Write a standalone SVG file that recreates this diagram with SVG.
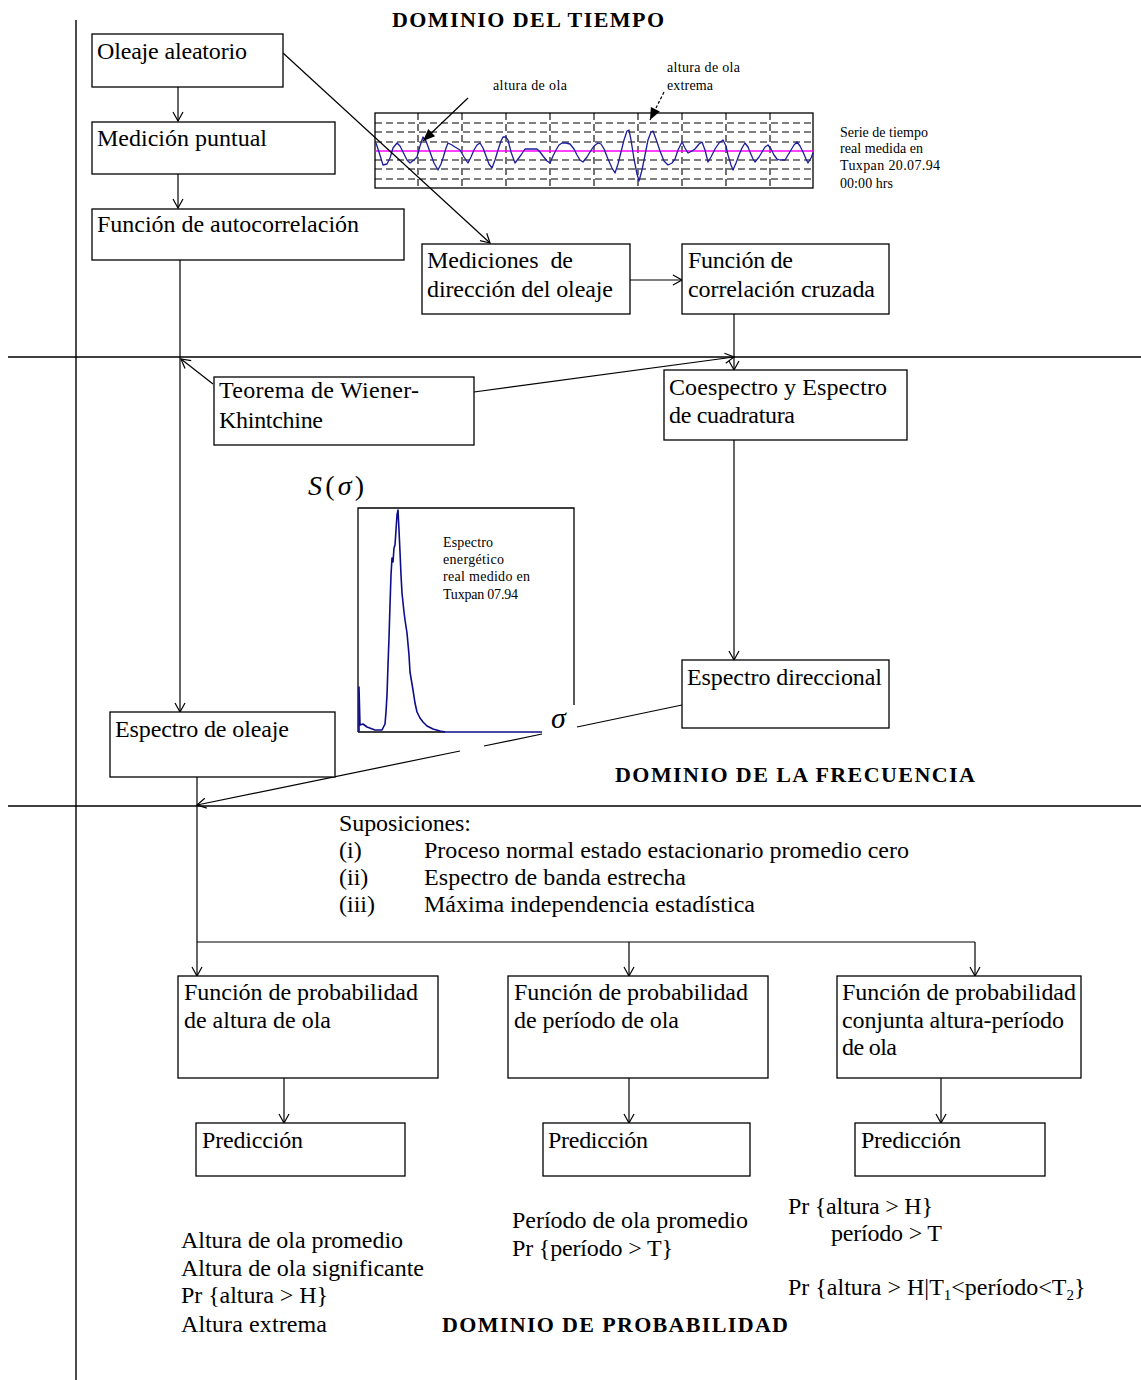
<svg xmlns="http://www.w3.org/2000/svg" width="1141" height="1380" viewBox="0 0 1141 1380">
<defs>
<style>
.bg{fill:#fff}
.box{fill:#fff;stroke:#000;stroke-width:1.3}
.t{font-family:"Liberation Serif","Times New Roman",serif;font-size:24px;fill:#000}
.h{font-family:"Liberation Serif","Times New Roman",serif;font-size:22px;font-weight:bold;fill:#000}
.s{font-family:"Liberation Serif","Times New Roman",serif;font-size:14px;fill:#000}
.c{stroke:#000;stroke-width:1.2;fill:none}
.div{stroke:#000;stroke-width:1.4;fill:none}
.grid{stroke:#000;stroke-width:1.1;stroke-dasharray:7 4;fill:none}
.wave{stroke:#1c1c9c;stroke-width:1.3;fill:none;stroke-linejoin:round}
.spec{stroke:#0d0d8a;stroke-width:1.6;fill:none;stroke-linejoin:round}
</style>
<marker id="v" markerWidth="12" markerHeight="12" refX="10" refY="6" orient="auto" markerUnits="userSpaceOnUse" overflow="visible">
<path d="M1,1 L10,6 L1,11" fill="none" stroke="#000" stroke-width="1.2"/>
</marker>
<marker id="f" markerWidth="14" markerHeight="12" refX="12" refY="6" orient="auto" markerUnits="userSpaceOnUse" overflow="visible">
<path d="M0,1 L12,6 L0,11 z" fill="#000"/>
</marker>
</defs>
<rect class="bg" x="0" y="0" width="1141" height="1380"/>

<g id="dividers">
<line class="div" x1="76" y1="20" x2="76" y2="1380"/>
<line class="div" x1="8" y1="357" x2="1141" y2="357"/>
<line class="div" x1="8" y1="806" x2="1141" y2="806"/>
</g>

<g id="headings">
<text class="h" x="392" y="27" textLength="272">DOMINIO DEL TIEMPO</text>
<text class="h" x="615" y="782" textLength="360">DOMINIO DE LA FRECUENCIA</text>
<text class="h" x="442" y="1332" textLength="346">DOMINIO DE PROBABILIDAD</text>
</g>

<g id="time-series">
<rect x="375" y="113" width="438" height="75" fill="#fff" stroke="#000" stroke-width="1.3"/>
<path class="grid" d="M375,123H813M375,132H813M375,142H813M375,160H813M375,169H813M375,179H813"/>
<path class="grid" d="M418,113V188M462,113V188M506,113V188M550,113V188M594,113V188M638,113V188M682,113V188M726,113V188M770,113V188"/>
<line x1="375" y1="151" x2="813" y2="151" stroke="#ff00ff" stroke-width="1.6"/>
<polyline class="wave" points="376,143 379,152 383,165 387,164 390,158 393,148 397,143 400,146 403,152 407,160 410,163 414,160 417,157 420,146 423,137 426,141 430,152 434,163 438,170 441,164 443,158 446,148 448,143 452,145 455,147 460,150 464,157 468,163 471,157 474,150 477,145 480,143 483,148 486,156 489,164 492,168 495,160 498,150 501,141 503,137 506,137 508,140 511,152 515,163 518,159 521,155 525,149 531,149 537,149 540,152 543,156 547,161 550,163 553,156 556,150 559,145 562,143 566,143 570,144 574,149 577,155 580,160 583,162 587,157 590,152 594,146 598,143 601,144 604,149 608,159 612,168 615,173 618,164 621,152 624,140 627,131 629,130 631,140 634,159 637,174 639,181 642,170 645,155 648,140 651,132 653,131 656,139 660,151 664,161 668,165 672,163 675,159 678,150 682,142 685,148 688,153 692,151 695,149 699,144 702,142 705,150 708,162 711,157 715,149 719,143 723,140 726,146 728,155 731,165 733,170 736,163 739,155 742,148 745,143 748,147 750,152 753,159 755,162 759,157 762,152 765,147 768,145 771,149 774,155 777,159 780,160 785,160 788,155 791,150 794,145 797,142 800,146 803,152 806,159 808,163 811,158 813,153"/>
<line class="c" x1="468" y1="98" x2="423" y2="141" marker-end="url(#f)"/>
<line class="c" x1="664" y1="92" x2="650" y2="120" stroke-dasharray="3 2" marker-end="url(#f)"/>
<text class="s" x="493" y="90" textLength="74">altura de ola</text>
<text class="s" x="667" y="72" textLength="73">altura de ola</text>
<text class="s" x="667" y="90" textLength="46">extrema</text>
<text class="s" x="840" y="137" textLength="88">Serie de tiempo</text>
<text class="s" x="840" y="153" textLength="83">real medida en</text>
<text class="s" x="840" y="170" textLength="100">Tuxpan 20.07.94</text>
<text class="s" x="840" y="188" textLength="53">00:00 hrs</text>
</g>

<g id="spectrum-plot">
<path d="M358,732V508H574V705" fill="none" stroke="#000" stroke-width="1.3"/>
<line x1="358" y1="732" x2="445" y2="732" stroke="#000" stroke-width="1.6"/>
<line x1="445" y1="732" x2="542" y2="732" stroke="#0d0d8a" stroke-width="1.6"/>
<polyline class="spec" points="359,732 359,687 360,725 363,724 367,727 375,730 382,730 385,724 386,712 387,695 388,665 389,638 390,605 391,575 392,558 393,562 394,548 395,545 396,530 397,515 398,510 399,530 400,552 401,575 402,593 404,612 405,620 407,633 409,655 410,672 412,684 413,690 415,703 417,712 420,718 423,722 427,726 433,729 440,731 445,732"/>
<text x="308" y="495" font-family="'Liberation Serif','Times New Roman',serif" font-size="28" textLength="56"><tspan font-style="italic">S</tspan>(<tspan font-style="italic">σ</tspan>)</text>
<text x="551" y="728" font-family="'Liberation Serif','Times New Roman',serif" font-size="30" font-style="italic">σ</text>
<text class="s" x="443" y="547" textLength="50">Espectro</text>
<text class="s" x="443" y="564" textLength="61">energético</text>
<text class="s" x="443" y="581" textLength="87">real medido en</text>
<text class="s" x="443" y="599" textLength="75">Tuxpan 07.94</text>
</g>

<g id="connectors">
<line class="c" x1="178" y1="87" x2="178" y2="121" marker-end="url(#v)"/>
<line class="c" x1="178" y1="174" x2="178" y2="208" marker-end="url(#v)"/>
<line class="c" x1="283" y1="53" x2="490" y2="243" marker-end="url(#v)"/>
<line class="c" x1="630" y1="280" x2="682" y2="280" marker-end="url(#v)"/>
<line class="c" x1="180" y1="260" x2="180" y2="712" marker-end="url(#v)"/>
<line class="c" x1="213" y1="384" x2="181" y2="359" marker-end="url(#v)"/>
<line class="c" x1="474" y1="392" x2="734" y2="357" marker-end="url(#v)"/>
<line class="c" x1="734" y1="310" x2="734" y2="370" marker-end="url(#v)"/>
<line class="c" x1="734" y1="440" x2="734" y2="660" marker-end="url(#v)"/>
<line class="c" x1="682" y1="705" x2="577" y2="727"/>
<line class="c" x1="542" y1="734" x2="484" y2="746"/>
<line class="c" x1="460" y1="751" x2="197" y2="805" marker-end="url(#v)"/>
<line class="c" x1="197" y1="777" x2="197" y2="976" marker-end="url(#v)"/>
<polyline class="c" points="197,942 975,942"/>
<line class="c" x1="629" y1="942" x2="629" y2="976" marker-end="url(#v)"/>
<line class="c" x1="975" y1="942" x2="975" y2="976" marker-end="url(#v)"/>
<line class="c" x1="284" y1="1078" x2="284" y2="1123" marker-end="url(#v)"/>
<line class="c" x1="629" y1="1078" x2="629" y2="1123" marker-end="url(#v)"/>
<line class="c" x1="941" y1="1078" x2="941" y2="1123" marker-end="url(#v)"/>
</g>

<g id="n-oleaje">
<rect class="box" x="92" y="34" width="191" height="53"/>
<text class="t" x="97" y="59" textLength="150">Oleaje aleatorio</text>
</g>
<g id="n-medicion">
<rect class="box" x="92" y="122" width="243" height="52"/>
<text class="t" x="97" y="146" textLength="170">Medición puntual</text>
</g>
<g id="n-autocorrelacion">
<rect class="box" x="92" y="209" width="312" height="51"/>
<text class="t" x="97" y="232" textLength="262">Función de autocorrelación</text>
</g>
<g id="n-mediciones-direccion">
<rect class="box" x="422" y="244" width="208" height="70"/>
<text class="t" x="427" y="268" textLength="146" xml:space="preserve">Mediciones  de</text>
<text class="t" x="427" y="297" textLength="186">dirección del oleaje</text>
</g>
<g id="n-correlacion-cruzada">
<rect class="box" x="682" y="244" width="207" height="70"/>
<text class="t" x="688" y="268" textLength="105">Función de</text>
<text class="t" x="688" y="297" textLength="187">correlación cruzada</text>
</g>
<g id="n-wiener">
<rect class="box" x="214" y="377" width="260" height="68"/>
<text class="t" x="219" y="398" textLength="200">Teorema de Wiener-</text>
<text class="t" x="219" y="428" textLength="104">Khintchine</text>
</g>
<g id="n-coespectro">
<rect class="box" x="664" y="370" width="243" height="70"/>
<text class="t" x="669" y="395" textLength="218">Coespectro y Espectro</text>
<text class="t" x="669" y="423" textLength="126">de cuadratura</text>
</g>
<g id="n-espectro-direccional">
<rect class="box" x="682" y="660" width="207" height="68"/>
<text class="t" x="687" y="685" textLength="195">Espectro direccional</text>
</g>
<g id="n-espectro-oleaje">
<rect class="box" x="110" y="712" width="225" height="65"/>
<text class="t" x="115" y="737" textLength="174">Espectro de oleaje</text>
</g>

<g id="suposiciones">
<text class="t" x="339" y="831" textLength="132">Suposiciones:</text>
<text class="t" x="339" y="858">(i)</text>
<text class="t" x="424" y="858" textLength="485">Proceso normal estado estacionario promedio cero</text>
<text class="t" x="339" y="885">(ii)</text>
<text class="t" x="424" y="885" textLength="262">Espectro de banda estrecha</text>
<text class="t" x="339" y="912">(iii)</text>
<text class="t" x="424" y="912" textLength="331">Máxima independencia estadística</text>
</g>

<g id="n-prob-altura">
<rect class="box" x="178" y="976" width="260" height="102"/>
<text class="t" x="184" y="1000" textLength="234">Función de probabilidad</text>
<text class="t" x="184" y="1028" textLength="147">de altura de ola</text>
</g>
<g id="n-prob-periodo">
<rect class="box" x="508" y="976" width="260" height="102"/>
<text class="t" x="514" y="1000" textLength="234">Función de probabilidad</text>
<text class="t" x="514" y="1028" textLength="165">de período de ola</text>
</g>
<g id="n-prob-conjunta">
<rect class="box" x="837" y="976" width="244" height="102"/>
<text class="t" x="842" y="1000" textLength="234">Función de probabilidad</text>
<text class="t" x="842" y="1028" textLength="222">conjunta altura-período</text>
<text class="t" x="842" y="1055" textLength="55">de ola</text>
</g>

<g id="n-pred-1">
<rect class="box" x="196" y="1123" width="209" height="53"/>
<text class="t" x="202" y="1148" textLength="101">Predicción</text>
</g>
<g id="n-pred-2">
<rect class="box" x="543" y="1123" width="207" height="53"/>
<text class="t" x="548" y="1148" textLength="100">Predicción</text>
</g>
<g id="n-pred-3">
<rect class="box" x="855" y="1123" width="190" height="53"/>
<text class="t" x="861" y="1148" textLength="100">Predicción</text>
</g>

<g id="resultados">
<text class="t" x="181" y="1248" textLength="222">Altura de ola promedio</text>
<text class="t" x="181" y="1276" textLength="243">Altura de ola significante</text>
<text class="t" x="181" y="1303" textLength="147">Pr {altura &gt; H}</text>
<text class="t" x="181" y="1332" textLength="146">Altura extrema</text>
<text class="t" x="512" y="1228" textLength="236">Período de ola promedio</text>
<text class="t" x="512" y="1256" textLength="161">Pr {período &gt; T}</text>
<text class="t" x="788" y="1214" textLength="145">Pr {altura &gt; H}</text>
<text class="t" x="831" y="1241" textLength="111">período &gt; T</text>
<text class="t" x="788" y="1295">Pr {altura &gt; H|T<tspan font-size="15" dy="5">1</tspan><tspan dy="-5">&lt;período&lt;T</tspan><tspan font-size="15" dy="5">2</tspan><tspan dy="-5">}</tspan></text>
</g>
</svg>
